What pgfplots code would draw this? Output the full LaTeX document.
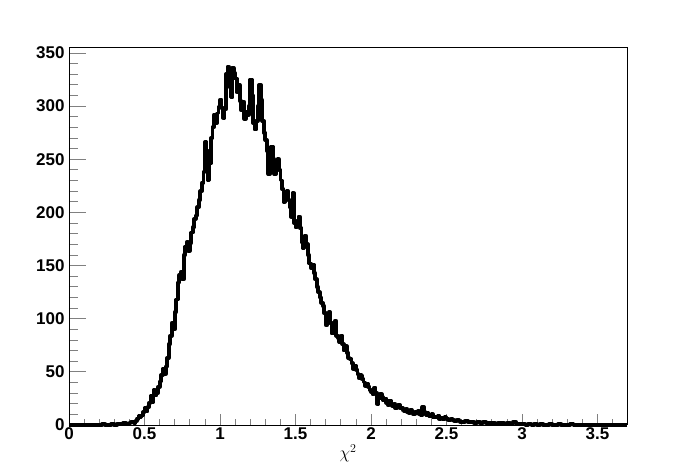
\documentclass[border=0pt]{standalone}
\usepackage{pgfplots}
\pgfplotsset{compat=1.18}
\usepackage{fontspec}
\setmainfont{Liberation Sans}
\begin{document}
\begin{tikzpicture}
\useasboundingbox (-69pt,-47pt) rectangle (627pt,425pt);
\begin{axis}[
  at={(0,0)}, anchor=south west,
  scale only axis, width=558pt, height=378pt,
  xmin=0, xmax=3.695, ymin=0, ymax=355.6,
  axis line style={line width=0.8pt},
  clip=false,
  axis x line*=bottom, axis y line*=left,
  xtick={0,0.5,...,3.5},
  xticklabels={0,0.5,1,1.5,2,2.5,3,3.5},
  minor xtick={0.1,0.2,0.3,0.4,0.6,0.7,0.8,0.9,1.1,1.2,1.3,1.4,1.6,1.7,1.8,1.9,2.1,2.2,2.3,2.4,2.6,2.7,2.8,2.9,3.1,3.2,3.3,3.4,3.6},
  ytick={0,50,...,350},
  minor y tick num=4,
  tick align=inside,
  xtick style={line width=0.8pt, /pgfplots/major tick length=11pt, /pgfplots/minor tick length=6pt},
  ytick style={line width=0.8pt, /pgfplots/major tick length=17pt, /pgfplots/minor tick length=9pt},
  /pgf/number format/assume math mode=true,
  ticklabel style={font=\fontsize{17}{17}\selectfont\bfseries},
  xticklabel style={yshift=1pt},
  yticklabel style={xshift=-1pt},
  xlabel={$\chi^{2}$},
  xlabel style={font=\fontsize{18}{18}\selectfont, at={(axis description cs:0.5,0)}, anchor=north, yshift=-16pt},
]
\draw[line width=0.8pt] (rel axis cs:0,1) -- (rel axis cs:1,1) -- (rel axis cs:1,0);
\addplot[const plot, line width=3.8pt, black, line join=round] table {
x y
0.00 0
0.02 0
0.04 0
0.06 0
0.08 0
0.10 0
0.12 0
0.14 0
0.16 0
0.18 0
0.20 0
0.22 1
0.24 0
0.26 0
0.28 1
0.30 0
0.32 1
0.34 1
0.36 2
0.38 1
0.40 2
0.41 3
0.42 3
0.43 2
0.44 4
0.45 6
0.46 9
0.47 7
0.48 9
0.49 12
0.50 16
0.51 13
0.52 17
0.53 21
0.54 27
0.55 22
0.56 33
0.57 28
0.58 30
0.59 36
0.60 41
0.61 47
0.62 53
0.63 48
0.64 55
0.65 63
0.66 76
0.67 84
0.68 96
0.69 90
0.70 106
0.71 118
0.72 134
0.73 141
0.74 144
0.75 137
0.76 160
0.77 168
0.78 172
0.79 164
0.80 171
0.81 181
0.82 186
0.83 194
0.84 197
0.85 205
0.86 212
0.87 220
0.88 228
0.89 238
0.90 266
0.91 258
0.92 230
0.93 246
0.94 270
0.95 280
0.96 292
0.97 284
0.98 293
0.99 299
1.00 306
1.01 298
1.02 289
1.03 297
1.04 330
1.05 337
1.06 318
1.07 308
1.08 336
1.09 331
1.10 326
1.11 313
1.12 320
1.13 305
1.14 296
1.15 304
1.16 288
1.17 295
1.18 292
1.19 300
1.20 325
1.21 310
1.22 284
1.23 278
1.24 286
1.25 300
1.26 320
1.27 306
1.28 286
1.29 275
1.30 268
1.31 258
1.32 236
1.33 245
1.34 262
1.35 250
1.36 236
1.37 244
1.38 250
1.39 240
1.40 230
1.41 222
1.42 210
1.43 218
1.44 220
1.45 212
1.46 205
1.47 196
1.48 218
1.49 190
1.50 186
1.51 192
1.52 196
1.53 185
1.54 172
1.55 166
1.56 178
1.57 170
1.58 160
1.59 152
1.60 148
1.61 151
1.62 143
1.63 137
1.64 130
1.65 125
1.66 120
1.67 115
1.68 112
1.69 105
1.70 94
1.71 101
1.72 106
1.73 96
1.74 86
1.75 92
1.76 98
1.77 84
1.78 82
1.79 78
1.80 84
1.81 76
1.82 70
1.83 74
1.84 68
1.85 63
1.86 62
1.87 58
1.88 53
1.89 56
1.90 52
1.91 48
1.92 44
1.93 47
1.94 43
1.95 40
1.96 37
1.97 39
1.98 36
1.99 33
2.00 31
2.01 29
2.02 35
2.03 30
2.04 20
2.05 25
2.06 29
2.07 26
2.08 23
2.09 25
2.10 21
2.11 19
2.12 23
2.13 20
2.14 18
2.15 20
2.16 16
2.17 18
2.18 19
2.19 16
2.20 16
2.21 14
2.22 13
2.23 15
2.24 12
2.25 11
2.26 14
2.27 12
2.28 10
2.29 12
2.30 11
2.31 13
2.32 10
2.33 9
2.34 17
2.35 12
2.36 9
2.37 11
2.38 8
2.39 9
2.40 10
2.41 7
2.42 7
2.43 8
2.44 9
2.45 6
2.46 7
2.47 6
2.48 6
2.49 8
2.50 6
2.51 5
2.52 5
2.53 6
2.54 5
2.55 4
2.56 4
2.57 5
2.58 4
2.59 3
2.60 3
2.62 4
2.64 3
2.66 3
2.68 2
2.70 3
2.72 2
2.74 3
2.76 2
2.78 2
2.80 2
2.82 1
2.84 2
2.86 2
2.88 1
2.90 2
2.92 1
2.94 3
2.96 1
2.98 1
3.00 1
3.02 0
3.04 1
3.06 0
3.08 1
3.10 0
3.12 1
3.14 0
3.16 0
3.18 1
3.20 0
3.22 0
3.24 1
3.26 0
3.28 0
3.30 0
3.32 1
3.34 0
3.36 0
3.38 0
3.40 0
3.42 0
3.44 0
3.46 0
3.48 0
3.50 0
3.52 0
3.54 0
3.56 0
3.58 0
3.60 0
3.62 0
3.64 0
3.66 0
3.68 0
3.695 0
};
\end{axis}
\end{tikzpicture}
\end{document}
